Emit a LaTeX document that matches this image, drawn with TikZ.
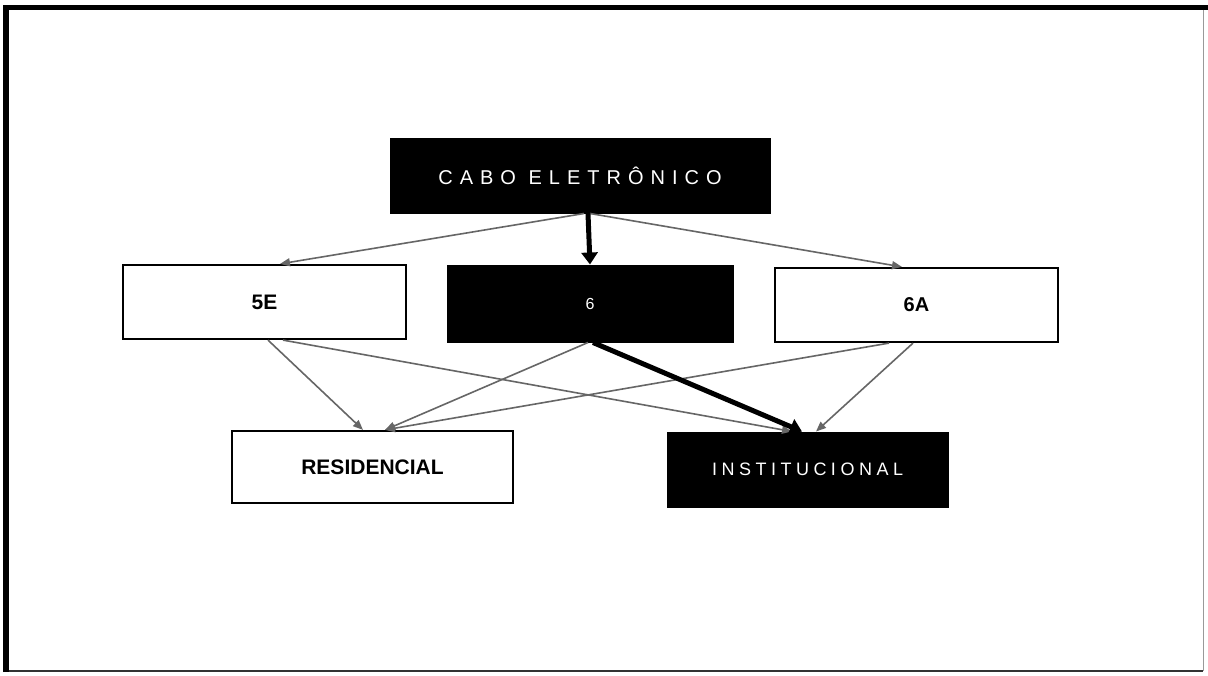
\documentclass[tikz,border=0pt]{standalone}
\usepackage{fontspec}
\setmainfont{Liberation Sans}
\newfontfamily\widefont[LetterSpace=35]{Liberation Sans}
\newfontfamily\midfont[LetterSpace=25]{Liberation Sans}
\usetikzlibrary{arrows.meta}
\tikzset{
  darkbox/.style={draw=black, fill=black, text=white, inner sep=0pt, line width=1pt},
  lightbox/.style={draw=black, fill=white, text=black, inner sep=0pt, line width=2.2pt},
  thinarrow/.style={draw=black!60, line width=1.6pt, -{Triangle[length=10pt,width=8pt]}},
  thickarrow/.style={draw=black, line width=5pt, -{Triangle[length=12pt,width=16pt]}}
}
\begin{document}
\begin{tikzpicture}[x=1pt,y=-1pt]
\useasboundingbox (0,0) rectangle (1208,675);
\fill[white] (0,0) rectangle (1208,675);
% frame
\draw[black!40, line width=1pt] (1203,8) -- (1203,671);
\draw[black!80, line width=2pt] (6,671) -- (1203,671);
\draw[black, line width=5.5pt] (6,672) -- (6,7.5) -- (1208,7.5);
% nodes
\node[darkbox, minimum width=380pt, minimum height=75pt] (cabo) at (580,175.5) {\widefont\fontsize{20}{22}\selectfont CABO ELETRÔNICO};
\node[lightbox, minimum width=283pt, minimum height=74pt] (e5) at (264.5,302) {\bfseries\fontsize{21}{23}\selectfont 5E};
\node[darkbox, minimum width=286pt, minimum height=77pt] (e6) at (590,303.5) {\fontsize{16}{18}\selectfont 6};
\node[lightbox, minimum width=283pt, minimum height=74pt] (e6a) at (916.5,305) {\bfseries\fontsize{20}{22}\selectfont 6A};
\node[lightbox, minimum width=281pt, minimum height=72pt] (res) at (372.5,467) {\bfseries\fontsize{21}{23}\selectfont RESIDENCIAL};
\node[darkbox, minimum width=281pt, minimum height=75pt] (inst) at (807.5,469.5) {\midfont\fontsize{18}{20}\selectfont INSTITUCIONAL};
% connectors
\draw[thinarrow] ([xshift=4pt]cabo.south) -- ([xshift=15.5pt]e5.north);
\draw[thinarrow] ([xshift=10pt]cabo.south) -- ([xshift=-14.5pt]e6a.north);
\draw[thickarrow] ([xshift=8pt]cabo.south) -- (e6.north);
\draw[thinarrow] ([xshift=3.5pt]e5.south) -- ([xshift=-9.5pt]res.north);
\draw[thinarrow] ([xshift=18.5pt]e5.south) -- ([xshift=-15.5pt]inst.north);
\draw[thinarrow] ([xshift=-2pt]e6.south) -- ([xshift=12.5pt]res.north);
\draw[thinarrow] ([xshift=-27.5pt]e6a.south) -- ([xshift=12.5pt]res.north);
\draw[thinarrow] ([xshift=-3.5pt]e6a.south) -- ([xshift=8.5pt]inst.north);
\draw[thickarrow] ([xshift=3pt]e6.south) -- ([xshift=-5.5pt]inst.north);
\end{tikzpicture}
\end{document}
